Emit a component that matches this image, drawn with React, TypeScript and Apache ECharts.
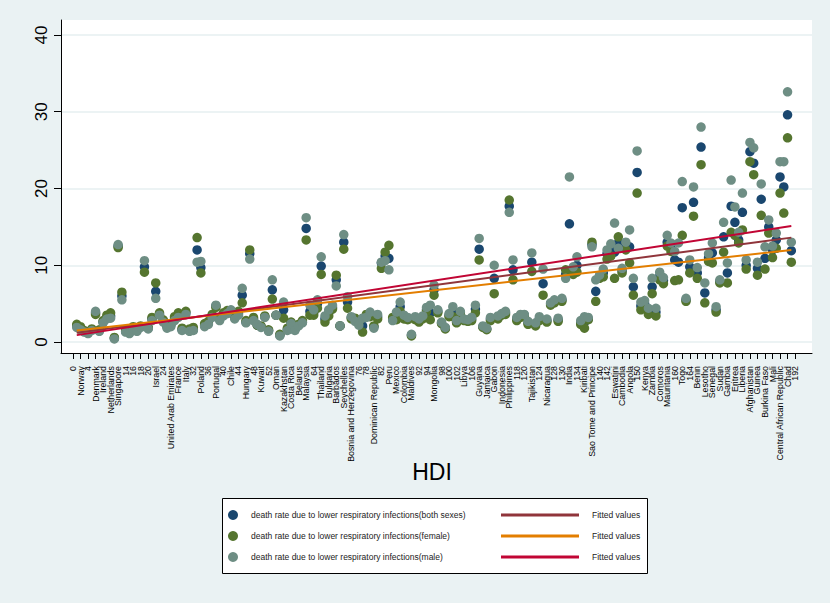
import React, { useEffect, useRef } from "react";
import * as echarts from "echarts";

// Tick labels on the HDI-rank axis, one every 2 ranks starting at 0
const tickLabels: string[] = [
  "0", "Norway", "4", "Denmark", "Ireland", "Netherlands", "Singapore", "14", "16", "18",
  "20", "Israel", "24", "United Arab Emirates", "France", "Italy", "32", "Poland", "36", "Portugal",
  "40", "Chile", "44", "Hungary", "48", "Kuwait", "52", "Oman", "Kazakhstan", "Costa Rica",
  "Belarus", "Malaysia", "64", "Thailand", "Bulgaria", "Barbados", "Seychelles", "Bosnia and Herzegovina", "76", "78",
  "Dominican Republic", "82", "Peru", "Mexico", "Colombia", "Maldives", "92", "94", "Mongolia", "98",
  "100", "102", "Libya", "106", "Guyana", "Jamaica", "Gabon", "Indonesia", "Philippines", "118",
  "120", "Tajikistan", "124", "Nicaragua", "128", "130", "India", "134", "Kiribati", "Sao Tome and Principe",
  "140", "142", "Eswatini", "Cambodia", "Angola", "150", "Kenya", "Zambia", "Comoros", "Mauritania",
  "160", "Togo", "164", "Benin", "Lesotho", "Senegal", "Sudan", "Gambia", "Eritrea", "Liberia",
  "Afghanistan", "Guinea", "Burkina Faso", "Mali", "Central African Republic", "Chad", "192",
];
const xTickStep = 2;
const yTicks = [0, 10, 20, 30, 40];

// Death rates by HDI rank (rank = position in array + 1)
const bothSexes: number[] = [
  2.1, 1.8, 1.4, 1.2, 1.6, 3.8, 1.5, 2.6, 3.2, 3.4,
  0.5, 12.5, 6.0, 1.4, 1.2, 1.8, 1.5, 2.0, 9.8, 1.8,
  3.0, 6.6, 3.6, 2.8, 2.0, 2.2, 3.0, 3.5, 1.6, 3.8,
  1.5, 1.6, 12.0, 9.7, 2.2, 2.5, 3.4, 4.7, 3.0, 3.6,
  3.9, 4.0, 3.2, 3.7, 6.1, 2.6, 11.5, 3.0, 2.2, 2.0,
  3.3, 1.5, 6.8, 3.5, 0.9, 4.2, 1.6, 2.5, 1.6, 2.2,
  2.6, 14.8, 4.0, 3.8, 5.0, 9.9, 3.0, 3.8, 4.5, 8.1,
  2.1, 13.0, 5.2, 3.2, 2.9, 2.4, 2.1, 3.4, 3.6, 2.0,
  3.3, 10.3, 11.2, 10.9, 3.0, 3.5, 4.6, 3.3, 3.0, 0.9,
  3.1, 2.8, 3.2, 4.2, 3.8, 6.8, 4.0, 2.5, 1.8, 3.5,
  4.0, 2.6, 3.8, 2.9, 2.8, 3.0, 4.3, 12.1, 2.0, 1.7,
  3.0, 8.3, 3.2, 3.6, 3.8, 17.7, 9.4, 3.0, 3.4, 3.5,
  2.5, 10.4, 2.3, 3.0, 7.6, 2.8, 5.0, 5.3, 2.9, 5.5,
  8.8, 15.4, 9.3, 10.0, 2.5, 2.6, 3.0, 12.7, 6.6, 8.5,
  9.0, 11.5, 12.0, 11.7, 12.9, 9.3, 12.4, 12.4, 7.2, 22.1,
  4.7, 5.0, 4.0, 7.2, 3.9, 8.6, 8.0, 13.0, 12.3, 10.7,
  10.4, 17.5, 5.5, 9.8, 18.2, 9.0, 25.4, 6.4, 11.0, 11.6,
  4.2, 7.9, 13.7, 9.0, 17.7, 15.6, 13.3, 16.9, 10.0, 24.8,
  23.3, 9.6, 18.6, 10.9, 15.0, 12.0, 13.3, 21.5, 20.2, 29.6,
  11.9,
];
const female: number[] = [
  2.3, 2.0, 1.5, 1.3, 1.7, 3.6, 1.6, 2.8, 3.5, 3.8,
  0.6, 12.3, 6.5, 1.6, 1.3, 2.0, 1.6, 2.1, 9.1, 1.9,
  3.2, 7.7, 3.8, 2.9, 2.2, 2.3, 3.3, 3.8, 1.8, 4.0,
  1.7, 1.9, 13.6, 9.0, 2.4, 2.7, 3.6, 4.5, 3.2, 3.8,
  4.1, 3.8, 3.4, 4.0, 5.1, 2.8, 12.0, 3.2, 2.2, 2.1,
  3.4, 1.6, 5.6, 3.5, 1.0, 3.1, 1.8, 2.6, 1.7, 2.3,
  2.8, 13.3, 3.5, 3.5, 4.4, 8.8, 2.6, 3.4, 4.3, 8.7,
  2.1, 12.1, 4.4, 3.0, 3.1, 2.6, 1.3, 3.6, 3.3, 2.1,
  3.0, 9.6, 11.7, 12.6, 3.2, 2.9, 4.0, 3.0, 2.9, 0.8,
  2.9, 2.6, 3.0, 4.0, 2.9, 6.1, 3.8, 2.4, 1.7, 3.3,
  3.3, 2.5, 3.6, 2.8, 2.7, 2.8, 3.8, 10.7, 1.9, 1.6,
  2.8, 6.3, 3.0, 3.5, 3.6, 18.5, 8.1, 2.8, 3.2, 3.3,
  2.3, 9.2, 2.1, 2.8, 6.1, 2.6, 4.8, 5.1, 2.7, 5.3,
  9.4, 9.3, 8.8, 9.1, 2.3, 1.8, 2.9, 13.0, 5.3, 8.3,
  8.5, 10.8, 11.2, 8.3, 13.7, 9.0, 12.0, 10.3, 6.1, 19.4,
  4.2, 4.5, 3.6, 6.3, 3.4, 8.1, 7.6, 12.5, 11.8, 8.0,
  8.1, 13.9, 5.3, 9.0, 16.4, 8.3, 23.1, 5.1, 10.5, 10.3,
  3.9, 7.7, 11.7, 7.7, 14.3, 13.9, 12.9, 14.6, 9.5, 23.5,
  21.8, 8.7, 16.5, 9.5, 14.2, 11.0, 12.2, 19.4, 16.8, 26.6,
  10.4,
];
const male: number[] = [
  1.9, 1.6, 1.3, 1.1, 1.5, 4.0, 1.4, 2.5, 3.0, 3.1,
  0.4, 12.7, 5.5, 1.3, 1.1, 1.7, 1.4, 1.9, 10.6, 1.7,
  2.8, 5.7, 3.5, 2.6, 1.8, 2.0, 2.8, 3.2, 1.5, 3.6,
  1.4, 1.5, 10.4, 10.5, 2.0, 2.3, 3.2, 4.8, 2.8, 3.4,
  3.7, 4.2, 3.0, 3.5, 7.0, 2.5, 10.8, 2.8, 2.3, 1.9,
  3.2, 1.4, 8.1, 3.5, 0.8, 5.2, 1.5, 2.4, 1.5, 2.1,
  2.5, 16.2, 4.8, 4.2, 5.5, 11.1, 3.4, 4.2, 4.8, 7.3,
  2.1, 14.0, 5.9, 3.3, 2.7, 2.2, 3.1, 3.2, 3.9, 1.8,
  3.6, 10.4, 10.6, 9.4, 2.8, 3.9, 5.2, 3.5, 3.2, 1.0,
  3.3, 3.0, 3.4, 4.5, 4.8, 7.4, 4.2, 2.6, 1.9, 3.7,
  4.6, 2.8, 4.0, 3.0, 2.9, 3.2, 4.8, 13.5, 2.1, 1.8,
  3.2, 10.0, 3.4, 3.7, 4.0, 16.9, 10.7, 3.2, 3.6, 3.6,
  2.7, 11.6, 2.5, 3.3, 9.5, 3.0, 5.1, 5.5, 3.1, 5.7,
  8.3, 21.5, 9.8, 11.1, 2.8, 3.3, 3.2, 12.4, 8.1, 8.7,
  9.5, 12.0, 12.8, 15.5, 12.2, 9.6, 13.0, 14.6, 8.3, 24.9,
  5.2, 5.4, 4.4, 8.3, 4.4, 9.1, 8.4, 13.9, 12.9, 11.8,
  12.9, 20.9, 5.7, 10.7, 20.2, 9.7, 28.0, 7.7, 11.5, 12.9,
  4.6, 8.1, 15.6, 10.3, 21.1, 17.6, 14.3, 19.4, 10.7, 26.0,
  25.3, 10.4, 20.6, 12.4, 15.9, 12.5, 14.2, 23.5, 23.5, 32.6,
  13.0,
];

// Linear fits: [rank, fitted value] at the ends of the data range
const fitBoth: number[][] = [[1, 1.2], [191, 13.6]];
const fitFemale: number[][] = [[1, 1.5], [191, 12.0]];
const fitMale: number[][] = [[1, 0.9], [191, 15.1]];

const nameBoth = "death rate due to lower respiratory infections(both sexes)";
const nameFemale = "death rate due to lower respiratory infections(female)";
const nameMale = "death rate due to lower respiratory infections(male)";

const FONT = "'Liberation Sans', Arial, sans-serif";
const X_MIN = -3.19;
const X_MAX = 196.5;

export default function App() {
  const ref = useRef<HTMLDivElement>(null);

  useEffect(() => {
    if (!ref.current) return;
    const chart = echarts.init(ref.current, null, { renderer: "svg" });

    const toPoints = (vals: number[]) => vals.map((v, i) => [i + 1, v]);
    const xTickValues = tickLabels.map((_, i) => i * xTickStep);
    const labelByValue: Record<number, string> = {};
    xTickValues.forEach((v, i) => (labelByValue[v] = tickLabels[i]));
    // Labels are split over two stacked axes (alternating ticks) so that the
    // densely packed vertical labels are all drawn.
    const evenLabels = xTickValues.filter((_, i) => i % 2 === 0);
    const oddLabels = xTickValues.filter((_, i) => i % 2 === 1);

    const labelStyle = {
      rotate: 90,
      margin: 13,
      fontSize: 8.8,
      color: "#000",
      fontFamily: FONT,
      showMinLabel: true,
      showMaxLabel: true,
      hideOverlap: false,
      formatter: (v: number) => labelByValue[v] ?? "",
    };

    const scatter = (name: string, color: string, vals: number[]) => ({
      name,
      type: "scatter",
      data: toPoints(vals),
      symbol: "circle",
      symbolSize: 9.5,
      itemStyle: { color, opacity: 1 },
      emphasis: { disabled: true },
      z: 2,
    });
    const fit = (name: string, color: string, pts: number[][]) => ({
      name,
      type: "line",
      data: pts,
      symbol: "none",
      color,
      lineStyle: { color, width: 2 },
      itemStyle: { color },
      emphasis: { disabled: true },
      z: 3,
    });

    chart.setOption({
      animation: false,
      backgroundColor: "#eaf2f3",
      textStyle: { fontFamily: FONT },
      grid: {
        left: 61,
        top: 20,
        width: 751,
        height: 333,
        show: true,
        backgroundColor: "#ffffff",
        borderWidth: 0,
        containLabel: false,
        outerBoundsMode: "none",
      },
      xAxis: [
        {
          type: "value",
          position: "bottom",
          min: X_MIN,
          max: X_MAX,
          axisLine: { onZero: false, lineStyle: { color: "#000", width: 1 } },
          axisTick: { customValues: xTickValues, length: 6, lineStyle: { color: "#000", width: 1 } },
          axisLabel: { ...labelStyle, customValues: evenLabels },
          splitLine: { show: false },
        },
        {
          type: "value",
          position: "bottom",
          offset: 0,
          min: X_MIN,
          max: X_MAX,
          axisLine: { show: false, onZero: false },
          axisTick: { show: false },
          axisLabel: { ...labelStyle, customValues: oddLabels },
          splitLine: { show: false },
        },
      ],
      yAxis: {
        type: "value",
        min: -1.43,
        max: 41.95,
        axisLine: { onZero: false, lineStyle: { color: "#000", width: 1 } },
        axisTick: { customValues: yTicks, length: 7, lineStyle: { color: "#000", width: 1 } },
        axisLabel: {
          customValues: yTicks,
          showMinLabel: true,
          showMaxLabel: true,
          rotate: 90,
          margin: 11,
          fontSize: 17,
          color: "#000",
          fontFamily: FONT,
        },
        splitLine: { show: true, lineStyle: { color: "#e6eff1", width: 1.5 } },
      },
      legend: [
        {
          orient: "vertical",
          left: 228,
          top: 510,
          padding: 0,
          itemWidth: 26,
          itemHeight: 10,
          itemGap: 11,
          icon: "circle",
          selectedMode: false,
          data: [nameBoth, nameFemale, nameMale],
          textStyle: { fontSize: 8.5, fontFamily: FONT, color: "#222", lineHeight: 10 },
        },
        {
          orient: "vertical",
          left: 501,
          top: 510,
          padding: 0,
          itemWidth: 78,
          itemHeight: 3,
          itemGap: 11,
          icon: "rect",
          selectedMode: false,
          data: ["fitBoth", "fitFemale", "fitMale"],
          formatter: () => "Fitted values",
          textStyle: { fontSize: 8.5, fontFamily: FONT, color: "#222", lineHeight: 10, padding: [0, 0, 0, 8] },
        },
      ],
      graphic: [
        {
          type: "rect",
          z: 0,
          silent: true,
          shape: { x: 222.5, y: 498.5, width: 425, height: 75 },
          style: { fill: "#ffffff", stroke: "#000000", lineWidth: 1 },
        },
        {
          type: "text",
          x: 432,
          y: 472,
          silent: true,
          style: {
            text: "HDI",
            font: `23px ${FONT}`,
            fill: "#000",
            textAlign: "center",
            textVerticalAlign: "middle",
          },
        },
      ],
      series: [
        scatter(nameBoth, "#1a476f", bothSexes),
        scatter(nameFemale, "#55752f", female),
        scatter(nameMale, "#6e8e84", male),
        fit("fitBoth", "#90353b", fitBoth),
        fit("fitFemale", "#e37e00", fitFemale),
        fit("fitMale", "#c10534", fitMale),
      ],
    });

    return () => chart.dispose();
  }, []);

  return (
    <div
      ref={ref}
      style={{ position: "absolute", left: 0, top: 0, width: 830, height: 603 }}
    />
  );
}
